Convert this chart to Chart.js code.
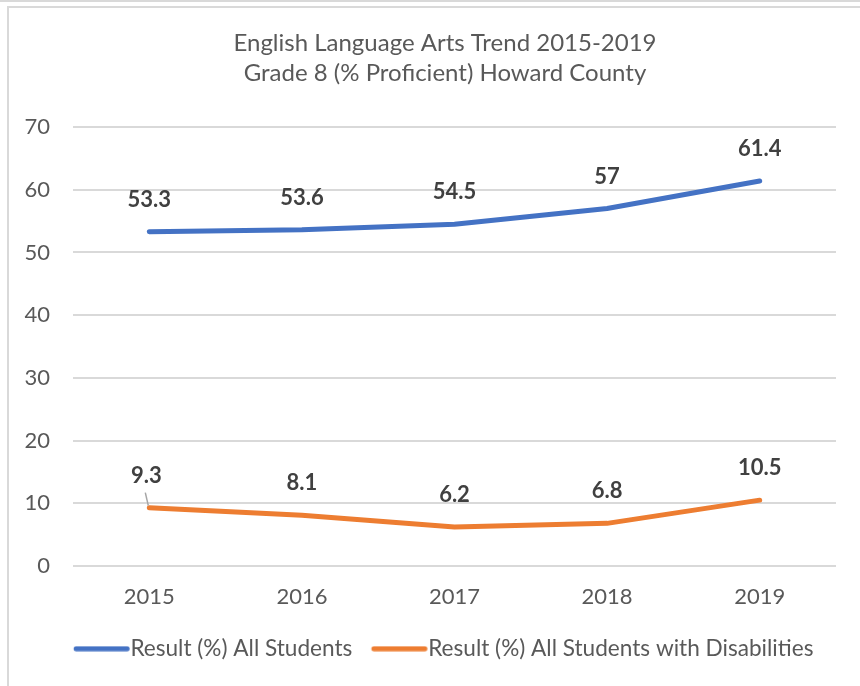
<!DOCTYPE html>
<html>
<head>
<meta charset="utf-8">
<script src="https://cdn.jsdelivr.net/npm/chart.js@4"></script>
<style>
  html, body { margin: 0; padding: 0; background: #ffffff; }
  #wrap { position: relative; width: 860px; height: 686px; overflow: hidden; background: #fff; }
  #topline { position: absolute; left: 0; top: 0; width: 860px; height: 2px; background: #d9d9d9; }
  #box { position: absolute; left: 7px; top: 6px; width: 900px; height: 700px; border-left: 2px solid #d9d9d9; border-top: 2px solid #d9d9d9; box-sizing: border-box; }
  canvas { position: absolute; left: 0; top: 0; }
</style>
</head>
<body>
<div id="wrap">
  <div id="topline"></div>
  <div id="box"></div>
  <canvas id="c" width="860" height="686"></canvas>
</div>
<script>
const categories = ['2015', '2016', '2017', '2018', '2019'];
const allStudents = [53.3, 53.6, 54.5, 57, 61.4];
const disabilities = [9.3, 8.1, 6.2, 6.8, 10.5];
const seriesNames = ['Result (%) All Students', 'Result (%) All Students with Disabilities'];
const titleLines = ['English Language Arts Trend 2015-2019', 'Grade 8 (% Proficient) Howard County'];
const yMin = 0, yMax = 70, yStep = 10;
const seriesColors = ['#4472C4', '#ED7D31'];

const FONT = 'Lato, "Open Sans", sans-serif';

// legend swatch: a rounded 56px line, offset so it sits right next to its text
function legendLine(color) {
  const c = document.createElement('canvas');
  c.width = 80; c.height = 6;
  const g = c.getContext('2d');
  g.strokeStyle = color;
  g.lineWidth = 5;
  g.lineCap = 'round';
  g.beginPath();
  g.moveTo(21.75 + 2.5, 3);
  g.lineTo(21.75 + 53.5, 3);
  g.stroke();
  return c;
}

const shiftBlocks = {
  id: 'shiftBlocks',
  afterLayout(chart) {
    const t = chart.titleBlock;
    if (t) { t.left += 27; t.right += 27; }
    const l = chart.legend;
    if (l) { l.left += 21; l.right += 21; }
  }
};

const dataLabels = {
  id: 'dataLabels',
  afterDatasetsDraw(chart) {
    const ctx = chart.ctx;
    ctx.save();
    ctx.font = 'bold 22px ' + FONT;
    ctx.fillStyle = '#404040';
    ctx.textAlign = 'center';
    ctx.textBaseline = 'middle';
    chart.data.datasets.forEach((ds, di) => {
      const meta = chart.getDatasetMeta(di);
      meta.data.forEach((el, i) => {
        const v = ds.data[i];
        const lead = (di === 1 && i === 0);
        const lx = lead ? el.x - 3 : el.x;
        ctx.fillText(String(v), lx, el.y - 32);
        if (lead) {
          ctx.strokeStyle = '#a6a6a6';
          ctx.lineWidth = 1.5;
          ctx.beginPath();
          ctx.moveTo(el.x - 4, el.y - 15);
          ctx.lineTo(el.x - 1, el.y - 2);
          ctx.stroke();
        }
      });
    });
    ctx.restore();
  }
};

new Chart(document.getElementById('c'), {
  type: 'line',
  data: {
    labels: categories,
    datasets: [
      { label: seriesNames[0], data: allStudents, borderColor: seriesColors[0], backgroundColor: seriesColors[0], pointStyle: legendLine(seriesColors[0]) },
      { label: seriesNames[1], data: disabilities, borderColor: seriesColors[1], backgroundColor: seriesColors[1], pointStyle: legendLine(seriesColors[1]) }
    ]
  },
  options: {
    responsive: false,
    animation: false,
    devicePixelRatio: 1,
    layout: { padding: { left: 0, right: 24, top: 0, bottom: 16 } },
    elements: {
      line: { borderWidth: 5, tension: 0, borderCapStyle: 'round', borderJoinStyle: 'round' },
      point: { radius: 0, hoverRadius: 0 }
    },
    scales: {
      x: {
        offset: true,
        grid: { display: false, drawTicks: false, offset: true },
        border: { display: false },
        ticks: { color: '#595959', font: { family: FONT, size: 22 }, padding: 17.5 }
      },
      y: {
        min: yMin, max: yMax,
        grid: { color: '#d9d9d9', lineWidth: 2, drawTicks: false },
        border: { display: false },
        ticks: { stepSize: yStep, color: '#595959', font: { family: FONT, size: 22 }, padding: 23 },
        afterFit(scale) { scale.width = 73; }
      }
    },
    plugins: {
      title: {
        display: true,
        text: titleLines,
        color: '#595959',
        font: { family: FONT, size: 24, weight: 'normal', lineHeight: 30 / 24 },
        padding: { top: 28, bottom: 39 }
      },
      legend: {
        position: 'bottom',
        labels: {
          color: '#595959',
          font: { family: FONT, size: 22.6 },
          usePointStyle: true,
          pointStyleWidth: 54.5,
          boxHeight: 6,
          padding: 10
        }
      },
      tooltip: { enabled: false }
    }
  },
  plugins: [dataLabels, shiftBlocks]
});
</script>
</body>
</html>
